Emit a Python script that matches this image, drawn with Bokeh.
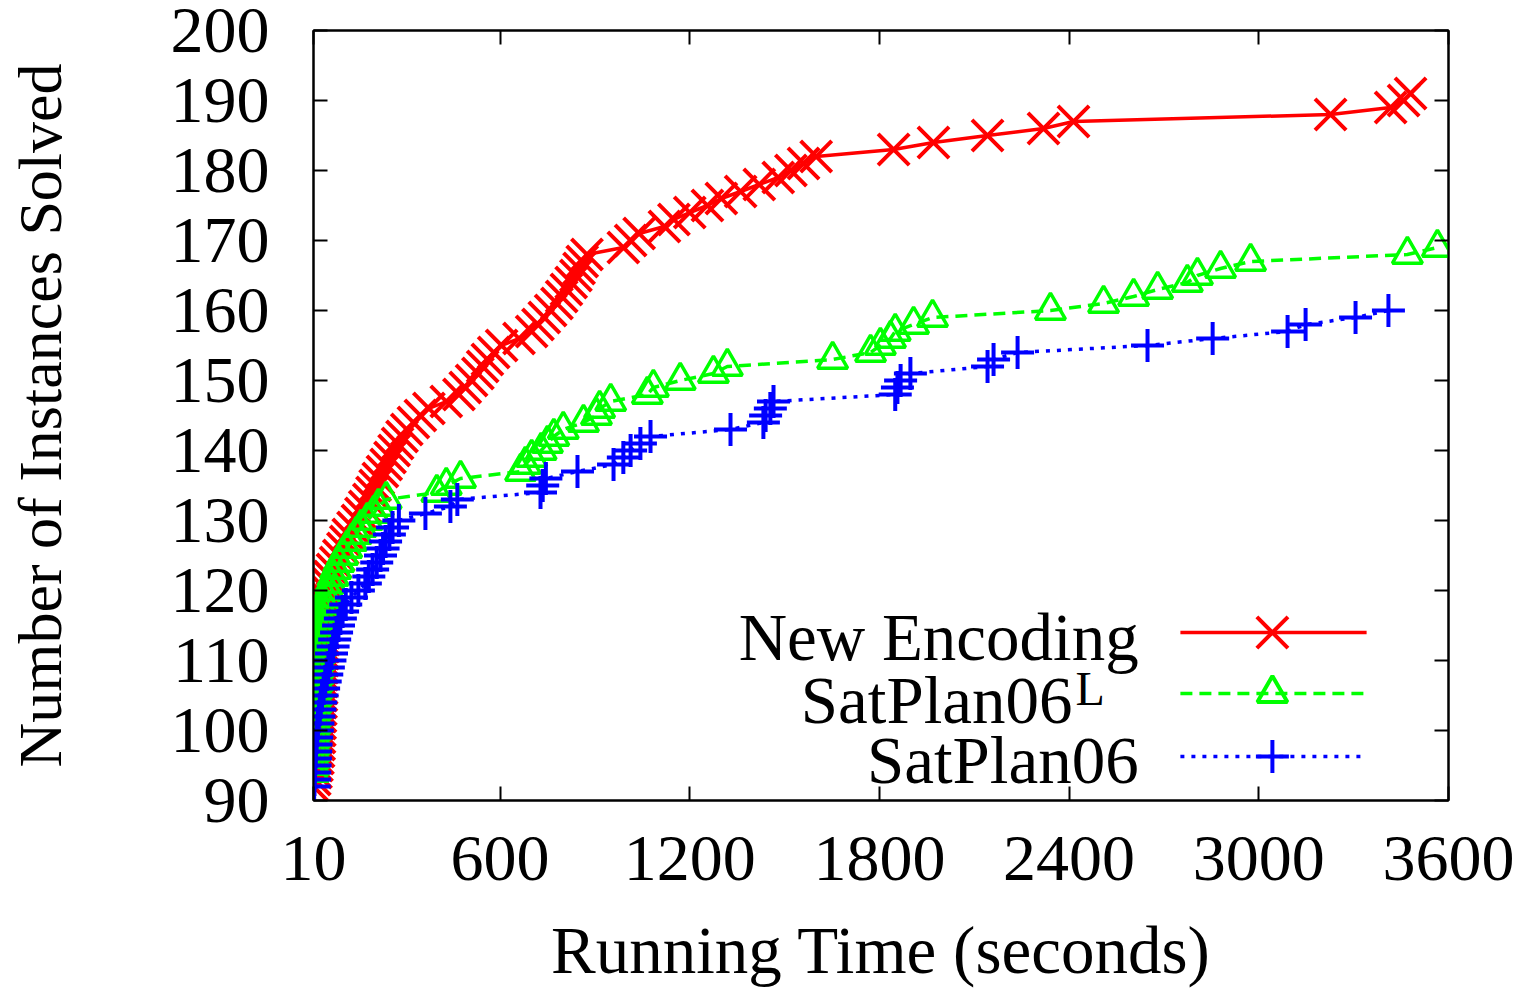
from bokeh.plotting import figure
from bokeh.models import Range1d, FixedTicker, LinearAxis, Label
from bokeh.embed import file_html
from bokeh.resources import INLINE

# ---------------- data ----------------
x_ticks = [10, 600, 1200, 1800, 2400, 3000, 3600]
x_tick_labels = ["10", "600", "1200", "1800", "2400", "3000", "3600"]
y_ticks = [90, 100, 110, 120, 130, 140, 150, 160, 170, 180, 190, 200]
y_tick_labels = ["90", "100", "110", "120", "130", "140", "150", "160", "170", "180", "190", "200"]

series_names = ["New Encoding", "SatPlan06", "SatPlan06"]
x_title = "Running Time (seconds)"
y_title = "Number of Instances Solved"

new_time = [10, 14, 18, 21, 24, 26, 28, 29, 30, 31, 32, 33, 34, 35, 36, 37, 38, 39, 40, 41,
            42, 43, 44, 45, 46, 47, 48, 50, 52, 56, 62, 70, 80, 90, 103, 112, 120, 135, 149, 160,
            172, 185, 195, 205, 215, 228, 240, 252, 265, 276, 290, 305, 326, 348, 375, 430, 470, 490, 510, 530,
            545, 560, 580, 605, 660, 700, 720, 740, 760, 780, 795, 810, 825, 840, 850, 860, 875, 990, 1013, 1040,
            1120, 1150, 1200, 1256, 1300, 1361, 1420, 1480, 1520, 1560, 1600, 1845, 1971, 2142, 2319, 2414, 3227, 3417, 3458, 3480]
new_solved = [92, 93, 94, 95, 96, 97, 98, 99, 100, 101, 102, 103, 104, 105, 106, 107, 108, 109, 110, 111,
              112, 113, 114, 115, 116, 117, 118, 119, 120, 121, 122, 123, 124, 125, 126, 127, 128, 129, 130, 131,
              132, 133, 134, 135, 136, 137, 138, 139, 140, 141, 142, 143, 144, 145, 146, 147, 148, 149, 150, 151,
              152, 153, 154, 155, 156, 157, 158, 159, 160, 161, 162, 163, 164, 165, 166, 167, 168, 169, 170, 171,
              172, 173, 174, 175, 176, 177, 178, 179, 180, 181, 182, 183, 184, 185, 186, 187, 188, 189, 190, 191]

satl_time = [10, 11, 12, 13, 14, 15, 16, 17, 18, 19, 20, 21, 22, 23, 25, 26, 28, 30, 32, 34,
             36, 38, 40, 43, 47, 52, 58, 64, 72, 80, 90, 102, 115, 130, 145, 160, 180, 200, 215, 240,
             400, 430, 475, 665, 680, 700, 730, 750, 770, 800, 864, 905, 915, 950, 1066, 1085, 1170, 1275, 1319, 1652,
             1772, 1803, 1835, 1850, 1908, 1968, 2341, 2509, 2604, 2680, 2774, 2806, 2879, 2974, 3470, 3565]
satl_solved = [94, 95, 96, 97, 98, 99, 100, 101, 102, 103, 104, 105, 106, 107, 108, 109, 110, 111, 112, 113,
               114, 115, 116, 117, 118, 119, 120, 121, 122, 123, 124, 125, 126, 127, 128, 129, 130, 131, 132, 133,
               134, 135, 136, 137, 138, 139, 140, 141, 142, 143, 144, 145, 146, 147, 148, 149, 150, 151, 152, 153,
               154, 155, 156, 157, 158, 159, 160, 161, 162, 163, 164, 165, 166, 167, 168, 169]

sat_time = [12, 13, 14, 15, 16, 17, 18, 20, 22, 24, 27, 30, 33, 37, 42, 47, 52, 57, 62, 67,
            72, 77, 83, 89, 95, 102, 112, 130, 152, 174, 185, 197, 210, 222, 230, 238, 250, 260, 280, 364,
            443, 465, 728, 735, 745, 845, 959, 990, 1013, 1044, 1076, 1329, 1433, 1440, 1455, 1465, 1850, 1857, 1867, 1898,
            2142, 2161, 2237, 2648, 2854, 3091, 3148, 3306, 3410]
sat_solved = [92, 93, 94, 95, 96, 97, 98, 99, 100, 101, 102, 103, 104, 105, 106, 107, 108, 109, 110, 111,
              112, 113, 114, 115, 116, 117, 118, 119, 120, 121, 122, 123, 124, 125, 126, 127, 128, 129, 130, 131,
              132, 133, 134, 135, 136, 137, 138, 139, 140, 141, 142, 143, 144, 145, 146, 147, 148, 149, 150, 151,
              152, 153, 154, 155, 156, 157, 158, 159, 160]

# legend geometry (data units)
legend_x0, legend_x1, legend_xm = 2752, 3341, 3043
legend_rows = [114.0, 105.3, 96.3]
legend_text_x = [2620, 2411, 2620]
legend_text_y = [113.4, 104.4, 95.8]
sup_x, sup_y = 2420, 106.0

FONT = "Liberation Serif"
RED, GREEN, BLUE = "#ff0000", "#00ff00", "#0000ff"

p = figure(width=1532, height=989, output_backend="svg", toolbar_location=None,
           x_range=Range1d(10, 3600), y_range=Range1d(90, 200),
           min_border_left=313, min_border_right=84, min_border_top=30, min_border_bottom=189)

p.xgrid.visible = False
p.ygrid.visible = False
p.outline_line_color = "black"
p.outline_line_width = 2
p.background_fill_color = "white"
p.border_fill_color = "white"

def style_axis(ax, ticks, labels, show_labels=True):
    ax.ticker = FixedTicker(ticks=ticks)
    ax.major_label_overrides = {t: l for t, l in zip(ticks, labels)}
    ax.major_tick_in = 14
    ax.major_tick_out = 0
    ax.minor_tick_in = 0
    ax.minor_tick_out = 0
    ax.major_tick_line_width = 2
    ax.major_tick_line_color = "black"
    ax.axis_line_color = "black"
    ax.axis_line_width = 2
    ax.major_label_text_font = FONT
    ax.major_label_text_font_size = "66px"
    ax.major_label_text_color = "black" if show_labels else None

style_axis(p.xaxis[0], x_ticks, x_tick_labels)
style_axis(p.yaxis[0], y_ticks, y_tick_labels)
p.xaxis[0].major_label_standoff = 36
p.yaxis[0].major_label_standoff = 44

p.xaxis[0].axis_label = x_title
p.yaxis[0].axis_label = y_title
for ax in (p.xaxis[0], p.yaxis[0]):
    ax.axis_label_text_font = FONT
    ax.axis_label_text_font_style = "normal"
    ax.axis_label_text_color = "black"
p.xaxis[0].axis_label_text_font_size = "67px"
p.yaxis[0].axis_label_text_font_size = "62px"
p.xaxis[0].axis_label_standoff = 30
p.yaxis[0].axis_label_standoff = 94

top_ax = LinearAxis()
right_ax = LinearAxis()
style_axis(top_ax, x_ticks, x_tick_labels, show_labels=False)
style_axis(right_ax, y_ticks, y_tick_labels, show_labels=False)
top_ax.major_label_text_font_size = "1px"
right_ax.major_label_text_font_size = "1px"
p.add_layout(top_ax, "above")
p.add_layout(right_ax, "right")

# ---------------- series ----------------
p.line(new_time, new_solved, line_color=RED, line_width=3.5)
p.scatter(new_time, new_solved, marker="x", size=44, line_color=RED, line_width=4)

p.line(satl_time, satl_solved, line_color=GREEN, line_width=3.5, line_dash="12 7")
p.scatter(satl_time, satl_solved, marker="triangle", size=30, line_color=GREEN,
          fill_color=None, line_width=3.5)

p.line(sat_time, sat_solved, line_color=BLUE, line_width=3.5, line_dash="4 7")
p.scatter(sat_time, sat_solved, marker="cross", size=33, line_color=BLUE, line_width=4)

# ---------------- legend (gnuplot style: text left, sample right) ----------------
styles = [(RED, None, "x", 44), (GREEN, "12 7", "triangle", 30), (BLUE, "4 7", "cross", 33)]
for (col, dash, mk, sz), ry in zip(styles, legend_rows):
    kw = {} if dash is None else {"line_dash": dash}
    p.line([legend_x0, legend_x1], [ry, ry], line_color=col, line_width=3.5, **kw)
    p.scatter([legend_xm], [ry], marker=mk, size=sz, line_color=col, fill_color=None, line_width=4)

for name, tx, ty in zip(series_names, legend_text_x, legend_text_y):
    p.add_layout(Label(x=tx, y=ty, text=name, text_align="right",
                       text_baseline="alphabetic", text_font=FONT,
                       text_font_size="67px", text_color="black"))

# superscript L on the second legend entry
p.add_layout(Label(x=sup_x, y=sup_y, text="L", text_align="left",
                   text_baseline="alphabetic", text_font=FONT,
                   text_font_size="48px", text_color="black"))

open("out.html", "w").write(file_html(p, INLINE))
